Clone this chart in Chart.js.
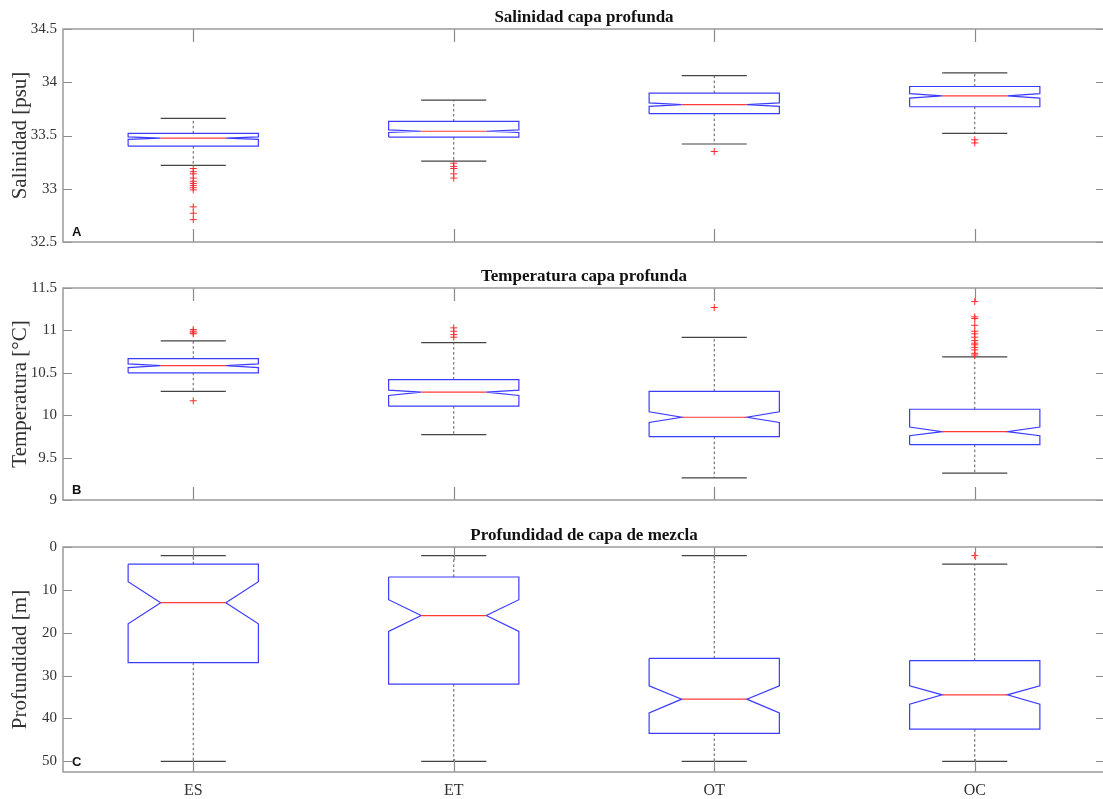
<!DOCTYPE html>
<html lang="es">
<head>
<meta charset="utf-8">
<title>Capa profunda y capa de mezcla</title>
<script src="https://cdn.jsdelivr.net/npm/chart.js@4/dist/chart.umd.min.js"></script>
<style>
  html, body { margin: 0; padding: 0; background: #fff; overflow: hidden; }
  #lamina { position: relative; width: 1103px; height: 799px; overflow: hidden; }
  #lamina canvas { position: absolute; left: 0; }
</style>
</head>
<body>
<div id="lamina">
  <canvas id="panelA" width="1110" height="257" style="top:0px"></canvas>
  <canvas id="panelB" width="1110" height="256" style="top:259px"></canvas>
  <canvas id="panelC" width="1110" height="281" style="top:518px"></canvas>
</div>
<script>
// Estaciones / zonas
const categorias = ['ES', 'ET', 'OT', 'OC'];

// Salinidad capa profunda [psu]
const salBigoteInf = [33.22, 33.26, 33.42, 33.52];
const salQ1        = [33.40, 33.485, 33.705, 33.77];
const salMuescaInf = [33.463, 33.528, 33.774, 33.851];
const salMediana   = [33.475, 33.54, 33.79, 33.872];
const salMuescaSup = [33.487, 33.552, 33.806, 33.893];
const salQ3        = [33.52, 33.632, 33.898, 33.96];
const salBigoteSup = [33.66, 33.833, 34.062, 34.088];
const salAtipicos  = [
  [33.19, 33.16, 33.14, 33.10, 33.07, 33.05, 33.03, 33.01, 32.99, 32.83, 32.77, 32.71],
  [33.24, 33.21, 33.19, 33.14, 33.10],
  [33.35],
  [33.46, 33.43]
];
const salMarcas = [32.5, 33, 33.5, 34, 34.5];

// Temperatura capa profunda [°C]
const temBigoteInf = [10.28, 9.772, 9.26, 9.316];
const temQ1        = [10.50, 10.106, 9.747, 9.653];
const temMuescaInf = [10.562, 10.232, 9.914, 9.758];
const temMediana   = [10.585, 10.273, 9.976, 9.806];
const temMuescaSup = [10.605, 10.296, 10.04, 9.86];
const temQ3        = [10.666, 10.42, 10.28, 10.07];
const temBigoteSup = [10.877, 10.855, 10.918, 10.688];
const temAtipicos  = [
  [11.01, 10.99, 10.97, 10.96, 10.17],
  [11.03, 10.99, 10.95, 10.92],
  [11.27],
  [11.34, 11.16, 11.14, 11.06, 10.99, 10.96, 10.92, 10.88, 10.85, 10.83, 10.80, 10.77, 10.73, 10.71]
];
const temMarcas = [9, 9.5, 10, 10.5, 11, 11.5];

// Profundidad de capa de mezcla [m]
const proBigoteInf = [2, 2, 2, 4];
const proQ1        = [4, 7, 26, 26.5];
const proMuescaInf = [8.1, 12.3, 32.4, 32.4];
const proMediana   = [13, 16, 35.5, 34.5];
const proMuescaSup = [17.9, 19.7, 38.7, 36.7];
const proQ3        = [27, 32, 43.5, 42.5];
const proBigoteSup = [50, 50, 50, 50];
const proAtipicos  = [[], [], [], [2]];
const proMarcas = [0, 10, 20, 30, 40, 50];

// Geometría de las cajas en unidades del eje x (una unidad por categoría)
const MEDIA_CAJA = 0.25;
const MEDIA_TOPE = 0.125;
const CORTE = (c) => ({ x: c, y: null });

function contornoCajas(q1, mInf, med, mSup, q3) {
  const pts = [];
  categorias.forEach((_, i) => {
    const c = i + 1, w = MEDIA_CAJA, h = MEDIA_CAJA / 2;
    pts.push(
      { x: c - w, y: q1[i] }, { x: c + w, y: q1[i] },
      { x: c + w, y: mInf[i] }, { x: c + h, y: med[i] }, { x: c + w, y: mSup[i] },
      { x: c + w, y: q3[i] }, { x: c - w, y: q3[i] },
      { x: c - w, y: mSup[i] }, { x: c - h, y: med[i] }, { x: c - w, y: mInf[i] },
      { x: c - w, y: q1[i] }, CORTE(c)
    );
  });
  return pts;
}

function lineasMediana(med) {
  const pts = [];
  med.forEach((v, i) => {
    const c = i + 1, h = MEDIA_CAJA / 2;
    pts.push({ x: c - h, y: v }, { x: c + h, y: v }, CORTE(c));
  });
  return pts;
}

function bigotes(inf, q1, q3, sup) {
  const pts = [];
  categorias.forEach((_, i) => {
    const c = i + 1;
    pts.push({ x: c, y: q3[i] }, { x: c, y: sup[i] }, CORTE(c),
             { x: c, y: q1[i] }, { x: c, y: inf[i] }, CORTE(c));
  });
  return pts;
}

function topes(inf, sup) {
  const pts = [];
  categorias.forEach((_, i) => {
    const c = i + 1, t = MEDIA_TOPE;
    pts.push({ x: c - t, y: sup[i] }, { x: c + t, y: sup[i] }, CORTE(c),
             { x: c - t, y: inf[i] }, { x: c + t, y: inf[i] }, CORTE(c));
  });
  return pts;
}

function puntosAtipicos(grupos) {
  const pts = [];
  grupos.forEach((vals, i) => vals.forEach(v => pts.push({ x: i + 1, y: v })));
  return pts;
}

// Marco, marcas hacia dentro y letra del panel
const marcoEjes = {
  id: 'marcoEjes',
  afterDraw(chart, args, opts) {
    const { ctx, chartArea: a, scales: { x, y } } = chart;
    ctx.save();
    ctx.strokeStyle = '#8a8a8a';
    ctx.lineWidth = 1.2;
    ctx.beginPath();
    x.ticks.forEach(t => {
      const px = Math.round(x.getPixelForValue(t.value)) + 0.5;
      ctx.moveTo(px, a.top); ctx.lineTo(px, a.top + 13);
      ctx.moveTo(px, a.bottom); ctx.lineTo(px, a.bottom - 13);
    });
    y.ticks.forEach(t => {
      const py = Math.round(y.getPixelForValue(t.value)) + 0.5;
      ctx.moveTo(a.left, py); ctx.lineTo(a.left + 9, py);
      ctx.moveTo(a.right, py); ctx.lineTo(a.right - 9, py);
    });
    ctx.stroke();
    ctx.strokeStyle = '#9a9a9a';
    ctx.lineWidth = 1.5;
    ctx.strokeRect(a.left, a.top, a.right - a.left, a.bottom - a.top);
    ctx.fillStyle = '#111';
    ctx.font = 'bold 13px "Liberation Sans", Arial, sans-serif';
    ctx.textBaseline = 'alphabetic';
    ctx.textAlign = 'left';
    ctx.fillText(opts.letra, a.left + 9, a.bottom - 6);
    ctx.restore();
  }
};

const SERIF = '"Liberation Serif", "Times New Roman", serif';

function crearPanel(id, p) {
  return new Chart(document.getElementById(id), {
    type: 'line',
    data: {
      datasets: [
        { label: 'Atípicos', data: puntosAtipicos(p.atipicos), showLine: false,
          pointStyle: 'cross', pointRadius: 3.5, pointBorderColor: '#ff2a2a',
          pointBorderWidth: 1, borderColor: '#ff2a2a' },
        { label: 'Mediana', data: lineasMediana(p.med), borderColor: '#ff3a3a',
          borderWidth: 1.2, pointRadius: 0 },
        { label: 'Caja', data: contornoCajas(p.q1, p.mInf, p.med, p.mSup, p.q3),
          borderColor: '#3c3cff', borderWidth: 1.2, pointRadius: 0 },
        { label: 'Bigotes', data: bigotes(p.inf, p.q1, p.q3, p.sup),
          borderColor: '#555', borderWidth: 1, borderDash: [2.5, 2.5], pointRadius: 0 },
        { label: 'Topes', data: topes(p.inf, p.sup), borderColor: '#444',
          borderWidth: 1.2, pointRadius: 0 }
      ]
    },
    options: {
      responsive: false,
      animation: false,
      devicePixelRatio: 1,
      events: [],
      spanGaps: false,
      layout: { padding: { left: 0, right: 5, top: 0, bottom: p.mostrarX ? 0 : 3 } },
      plugins: {
        legend: { display: false },
        tooltip: { enabled: false },
        title: {
          display: true, text: p.titulo, fullSize: false, color: '#111',
          font: { family: SERIF, size: 17, weight: 'bold', lineHeight: 1.2 },
          padding: { top: 7.5, bottom: 1.1 }
        },
        marcoEjes: { letra: p.letra }
      },
      scales: {
        x: {
          type: 'linear', min: 0.5, max: 4.5, display: p.mostrarX,
          afterBuildTicks: s => { s.ticks = categorias.map((_, i) => ({ value: i + 1 })); },
          afterFit: s => { if (p.mostrarX) s.height = 27; },
          grid: { display: false, drawTicks: false },
          border: { display: false },
          ticks: { padding: 9, color: '#333', autoSkip: false, maxRotation: 0,
                   font: { family: SERIF, size: 16 },
                   callback: v => categorias[v - 1] }
        },
        y: {
          type: 'linear', min: p.marcas[0], max: p.marcas[p.marcas.length - 1] + (p.extra || 0),
          reverse: !!p.invertido,
          afterBuildTicks: s => { s.ticks = p.marcas.map(v => ({ value: v })); },
          afterFit: s => { s.width = 63; },
          grid: { display: false, drawTicks: false },
          border: { display: false },
          ticks: { padding: 6, color: '#333', font: { family: SERIF, size: 15 },
                   callback: v => String(v) },
          title: { display: true, text: p.eje, color: '#333',
                   font: { family: SERIF, size: 21 }, padding: { top: 7.5, bottom: 0 } }
        }
      }
    },
    plugins: [marcoEjes]
  });
}

crearPanel('panelA', {
  titulo: 'Salinidad capa profunda', eje: 'Salinidad [psu]', letra: 'A',
  inf: salBigoteInf, q1: salQ1, mInf: salMuescaInf, med: salMediana,
  mSup: salMuescaSup, q3: salQ3, sup: salBigoteSup, atipicos: salAtipicos,
  marcas: salMarcas, mostrarX: false
});

crearPanel('panelB', {
  titulo: 'Temperatura capa profunda', eje: 'Temperatura [°C]', letra: 'B',
  inf: temBigoteInf, q1: temQ1, mInf: temMuescaInf, med: temMediana,
  mSup: temMuescaSup, q3: temQ3, sup: temBigoteSup, atipicos: temAtipicos,
  marcas: temMarcas, mostrarX: false
});

crearPanel('panelC', {
  titulo: 'Profundidad de capa de mezcla', eje: 'Profundidad [m]', letra: 'C',
  inf: proBigoteInf, q1: proQ1, mInf: proMuescaInf, med: proMediana,
  mSup: proMuescaSup, q3: proQ3, sup: proBigoteSup, atipicos: proAtipicos,
  marcas: proMarcas, extra: 2.5, invertido: true, mostrarX: true
});
</script>
</body>
</html>
